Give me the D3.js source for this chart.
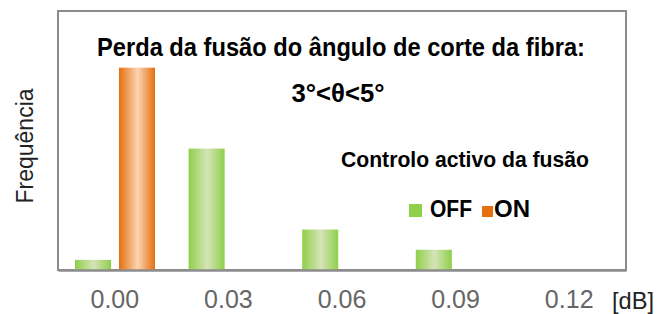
<!DOCTYPE html>
<html>
<head>
<meta charset="utf-8">
<script src="https://cdn.jsdelivr.net/npm/d3@7"></script>
<style>
  body { margin: 0; background: #fff; }
  svg { display: block; }
</style>
</head>
<body>
<script>
/* Data */
const categories = ["0.00", "0.03", "0.06", "0.09", "0.12"];
const seriesNames = ["OFF", "ON"];
const offValues = [1, 12, 4, 2, 0];
const onValues = [20, 0, 0, 0, 0];

/* Constants */
const W = 660, H = 314;
const PLOT = { left: 58, top: 11, right: 626, bottom: 270 };
const COLORS = { OFF: ["#8fcf4a", "#d5e4b7"], ON: ["#e4700f", "#fcd3b2"] };
const NARROW = "'Liberation Sans Narrow', 'Arial Narrow', 'Liberation Sans', Arial, sans-serif";
const SANS = "'Liberation Sans', Arial, sans-serif";

const svg = d3.select("body").append("svg")
  .attr("width", W)
  .attr("height", H);

/* Gradients */
const defs = svg.append("defs");
seriesNames.forEach(s => {
  const g = defs.append("linearGradient")
    .attr("id", "grad-" + s)
    .attr("x1", "0%").attr("x2", "100%")
    .attr("y1", "0%").attr("y2", "0%");
  g.append("stop").attr("offset", "0%").attr("stop-color", COLORS[s][0]);
  g.append("stop").attr("offset", "52%").attr("stop-color", COLORS[s][1]);
  g.append("stop").attr("offset", "100%").attr("stop-color", COLORS[s][0]);
});

/* Scales */
const x = d3.scaleBand()
  .domain(categories)
  .range([PLOT.left, PLOT.right]);

const xInner = d3.scaleBand()
  .domain(seriesNames)
  .range([17, 17 + 80])
  .paddingInner(0.18);

const y = d3.scaleLinear()
  .domain([0, 25.6])
  .range([PLOT.bottom, PLOT.top]);

/* Frame */
svg.append("rect")
  .attr("x", PLOT.left)
  .attr("y", PLOT.top)
  .attr("width", PLOT.right - PLOT.left)
  .attr("height", PLOT.bottom - PLOT.top)
  .attr("fill", "none")
  .attr("stroke", "#8c8c8c")
  .attr("stroke-width", 2);

/* Bars */
const rows = categories.map((c, i) => ({ cat: c, OFF: offValues[i], ON: onValues[i] }));

const groups = svg.selectAll(".grp")
  .data(rows)
  .enter()
  .append("g")
  .attr("class", "grp")
  .attr("transform", d => "translate(" + x(d.cat) + ",0)");

groups.selectAll("rect")
  .data(d => seriesNames.map(s => ({ s: s, v: d[s] })).filter(e => e.v > 0))
  .enter()
  .append("rect")
  .attr("x", d => xInner(d.s))
  .attr("y", d => y(d.v))
  .attr("width", xInner.bandwidth())
  .attr("height", d => y(0) - y(d.v))
  .attr("fill", d => "url(#grad-" + d.s + ")");

/* X axis */
const xAxis = d3.axisBottom(x).tickSize(0).tickPadding(20);
const gx = svg.append("g")
  .attr("transform", "translate(0," + PLOT.bottom + ")")
  .call(xAxis);
gx.select(".domain")
  .attr("stroke", "#8c8c8c")
  .attr("stroke-width", 2.5);
gx.selectAll("text")
  .attr("fill", "#666")
  .style("font-family", SANS)
  .style("font-size", "25px");

svg.append("text")
  .attr("x", 612)
  .attr("y", 309)
  .attr("textLength", 42)
  .attr("lengthAdjust", "spacingAndGlyphs")
  .attr("fill", "#222")
  .style("font-family", SANS)
  .style("font-size", "24px")
  .text("[dB]");

/* Y label */
svg.append("text")
  .attr("transform", "translate(33,146) rotate(-90)")
  .attr("text-anchor", "middle")
  .attr("fill", "#222")
  .style("font-family", SANS)
  .style("font-size", "23px")
  .text("Frequência");

/* Titles */
svg.append("text")
  .attr("x", 341)
  .attr("y", 56)
  .attr("text-anchor", "middle")
  .attr("textLength", 488)
  .attr("lengthAdjust", "spacingAndGlyphs")
  .style("font-family", NARROW)
  .style("font-weight", "bold")
  .style("font-size", "26px")
  .text("Perda da fusão do ângulo de corte da fibra:");

svg.append("text")
  .attr("x", 338)
  .attr("y", 102)
  .attr("text-anchor", "middle")
  .attr("textLength", 93)
  .attr("lengthAdjust", "spacingAndGlyphs")
  .style("font-family", NARROW)
  .style("font-weight", "bold")
  .style("font-size", "26px")
  .text("3°<θ<5°");

svg.append("text")
  .attr("x", 465)
  .attr("y", 167)
  .attr("text-anchor", "middle")
  .attr("textLength", 248)
  .attr("lengthAdjust", "spacingAndGlyphs")
  .style("font-family", NARROW)
  .style("font-weight", "bold")
  .style("font-size", "22px")
  .text("Controlo activo da fusão");

/* Legend */
const legendItems = [
  { s: "OFF", box: 409, size: 13, tx: 430, tw: 42 },
  { s: "ON", box: 482, size: 11, tx: 494, tw: 36 }
];
const lg = svg.selectAll(".leg")
  .data(legendItems)
  .enter()
  .append("g")
  .attr("class", "leg");
lg.append("rect")
  .attr("x", d => d.box)
  .attr("y", d => 217 - d.size)
  .attr("width", d => d.size)
  .attr("height", d => d.size)
  .attr("fill", d => COLORS[d.s][0]);
lg.append("text")
  .attr("x", d => d.tx)
  .attr("y", 217)
  .attr("textLength", d => d.tw)
  .attr("lengthAdjust", "spacingAndGlyphs")
  .style("font-family", NARROW)
  .style("font-weight", "bold")
  .style("font-size", "24px")
  .text(d => d.s);
</script>
</body>
</html>
